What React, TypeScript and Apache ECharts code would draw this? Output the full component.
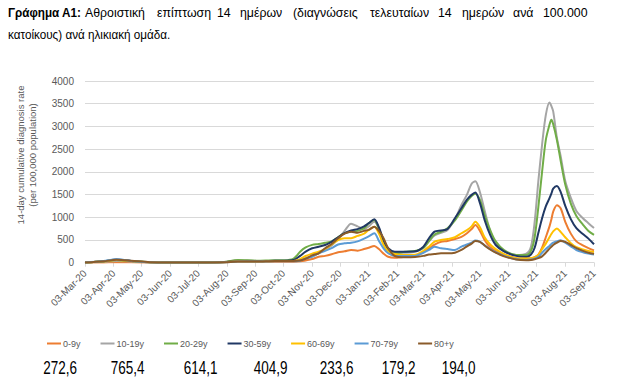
import React, { useEffect, useRef } from 'react';
import * as echarts from 'echarts';

const TITLE_BOLD = 'Γράφημα Α1:';
const TITLE_LINE1_WORDS = ['Αθροιστική', 'επίπτωση', '14', 'ημέρων', '(διαγνώσεις', 'τελευταίων', '14', 'ημερών', 'ανά', '100.000'];
const TITLE_LINE2 = 'κατοίκους) ανά ηλικιακή ομάδα.';
const Y_NAME = '14-day cumulative diagnosis rate\n(per 100,000 population)';

const AXIS_START = '2020-03-03';
const AXIS_END = '2021-09-03';
const Y_TICKS = [0, 500, 1000, 1500, 2000, 2500, 3000, 3500, 4000];

const DATES = [
  '2020-03-03', '2020-03-23', '2020-04-06', '2020-04-22', '2020-05-12', '2020-07-01', '2020-07-31', '2020-08-15',
  '2020-09-04', '2020-09-24', '2020-10-04', '2020-10-14', '2020-10-21', '2020-10-27', '2020-11-03', '2020-11-10',
  '2020-11-17', '2020-11-24', '2020-12-01', '2020-12-08', '2020-12-15', '2020-12-22', '2020-12-29', '2021-01-03',
  '2021-01-09', '2021-01-14', '2021-01-19', '2021-01-24', '2021-01-31', '2021-02-11', '2021-02-22', '2021-03-03',
  '2021-03-09', '2021-03-15', '2021-03-22', '2021-03-29', '2021-04-06', '2021-04-13', '2021-04-19', '2021-04-24',
  '2021-04-28', '2021-05-03', '2021-05-08', '2021-05-14', '2021-05-20', '2021-05-29', '2021-06-11', '2021-06-22',
  '2021-06-27', '2021-07-01', '2021-07-05', '2021-07-09', '2021-07-13', '2021-07-17', '2021-07-19', '2021-07-21',
  '2021-07-25', '2021-07-29', '2021-08-03', '2021-08-09', '2021-08-15', '2021-08-22', '2021-08-28', '2021-09-03',
];

const AGE_0_9 = [
  2, 5, 10, 8, 5, 3, 8, 20, 20, 20, 20, 20, 30, 50, 80, 130,
  150, 185, 230, 250, 280, 265, 300, 330, 370, 300, 200, 130, 110, 130, 140, 230,
  316, 400, 463, 480, 520, 570, 650, 740, 830, 700, 500, 340, 260, 180, 100, 90,
  100, 120, 180, 330, 560, 800, 950, 1125, 1265, 1200, 900, 640, 470, 380, 320, 272.6,
];
const AGE_10_19 = [
  2, 20, 40, 25, 10, 5, 15, 55, 40, 40, 40, 40, 50, 100, 150, 207,
  280, 380, 520, 700, 860, 800, 740, 800, 904, 760, 480, 300, 220, 220, 240, 320,
  470, 600, 660, 720, 960, 1272, 1500, 1740, 1795, 1550, 1150, 700, 430, 250, 170, 200,
  353, 900, 1800, 2600, 3250, 3528, 3450, 3330, 2750, 2350, 1800, 1430, 1140, 980, 870, 765.4,
];
const AGE_20_29 = [
  2, 30, 60, 35, 12, 5, 15, 60, 45, 55, 55, 90, 243, 335, 392, 412,
  440, 470, 560, 650, 684, 700, 760, 870, 942, 740, 463, 280, 207, 240, 260, 330,
  480, 620, 680, 760, 930, 1150, 1350, 1470, 1520, 1380, 1050, 720, 470, 280, 170, 170,
  260, 560, 1230, 2000, 2700, 3040, 3147, 3050, 2700, 2250, 1720, 1300, 1030, 840, 700, 614.1,
];
const AGE_30_59 = [
  2, 30, 70, 40, 12, 5, 12, 40, 35, 45, 45, 60, 150, 243, 317, 353,
  390, 460, 560, 650, 710, 740, 800, 870, 957, 780, 500, 317, 243, 243, 250, 353,
  538, 684, 710, 740, 979, 1199, 1390, 1493, 1543, 1310, 942, 611, 390, 250, 150, 130,
  180, 330, 660, 980, 1240, 1420, 1520, 1630, 1691, 1560, 1250, 960, 760, 630, 530, 404.9,
];
const AGE_60_69 = [
  2, 30, 60, 35, 10, 4, 10, 30, 25, 35, 35, 40, 80, 147, 200, 243,
  300, 400, 500, 538, 540, 590, 640, 721, 794, 640, 390, 243, 190, 170, 175, 260,
  353, 463, 500, 520, 560, 648, 720, 800, 900, 780, 560, 400, 300, 190, 100, 90,
  100, 120, 170, 300, 420, 560, 630, 690, 755, 680, 560, 430, 340, 290, 260, 233.6,
];
const AGE_70_79 = [
  2, 35, 75, 40, 10, 3, 8, 25, 25, 30, 30, 30, 50, 90, 130, 207,
  260, 320, 400, 427, 440, 470, 530, 580, 648, 480, 317, 207, 150, 148, 150, 220,
  280, 353, 316, 300, 280, 353, 400, 440, 490, 460, 380, 300, 230, 150, 75, 60,
  70, 90, 130, 220, 300, 370, 410, 440, 470, 495, 440, 360, 280, 230, 200, 179.2,
];
const AGE_80_PLUS = [
  2, 30, 65, 45, 12, 3, 8, 25, 25, 40, 40, 40, 50, 88, 160, 207,
  317, 412, 538, 640, 684, 660, 700, 721, 794, 700, 538, 317, 150, 119, 125, 150,
  180, 190, 207, 207, 220, 280, 360, 420, 480, 460, 380, 290, 220, 140, 70, 55,
  60, 75, 100, 140, 220, 310, 350, 390, 440, 480, 460, 390, 320, 260, 220, 194.0,
];

const AGE_GROUPS = ['0-9y', '10-19y', '20-29y', '30-59y', '60-69y', '70-79y', '80+y'];
const SERIES_VALUES = [AGE_0_9, AGE_10_19, AGE_20_29, AGE_30_59, AGE_60_69, AGE_70_79, AGE_80_PLUS];
const COLORS = ['#ED7D31', '#A5A5A5', '#70AD47', '#203864', '#FFC000', '#5B9BD5', '#8A5B2A'];

const MONTHS = ['Jan', 'Feb', 'Mar', 'Apr', 'May', 'Jun', 'Jul', 'Aug', 'Sep', 'Oct', 'Nov', 'Dec'];

const pad = (n: number) => (n < 10 ? '0' + n : '' + n);
const iso = (d: Date) => `${d.getUTCFullYear()}-${pad(d.getUTCMonth() + 1)}-${pad(d.getUTCDate())}`;

function dayRange(start: string, end: string): string[] {
  const out: string[] = [];
  const s = new Date(start + 'T00:00:00Z').getTime();
  const e = new Date(end + 'T00:00:00Z').getTime();
  for (let t = s; t <= e; t += 86400000) out.push(iso(new Date(t)));
  return out;
}

const fmtDate = (v: string) => {
  const [y, m, d] = v.split('-');
  return `${d}-${MONTHS[parseInt(m, 10) - 1]}-${y.slice(2)}`;
};

const SANS = "'Liberation Sans', Arial, sans-serif";

// layout (positions only)
const LINE1_X = [85, 157, 217, 240, 293, 370, 438, 462, 513, 543];
const VALUE_X = [60, 127.5, 200.5, 270.5, 336.5, 398.5, 458.5];
const LINE1_SCALE = 0.95;
const LINE2_SCALE = 0.9;
const BOLD_SCALE = 0.9;
const VALUE_SCALE = 0.75;

export default function App() {
  const ref = useRef<HTMLDivElement>(null);

  useEffect(() => {
    if (!ref.current) return;
    const chart = echarts.init(ref.current, null, { renderer: 'svg' });
    const categories = dayRange(AXIS_START, AXIS_END);
    const isTickDay = (_i: number, v: string) => v.endsWith('-03');

    const graphic: any[] = [
      {
        type: 'text', x: 8, y: 13, scaleX: BOLD_SCALE,
        style: { text: TITLE_BOLD, font: `bold 13px ${SANS}`, fill: '#000', verticalAlign: 'middle' },
      },
      ...TITLE_LINE1_WORDS.map((w, i) => ({
        type: 'text', x: LINE1_X[i], y: 13, scaleX: LINE1_SCALE,
        style: { text: w, font: `13px ${SANS}`, fill: '#000', verticalAlign: 'middle' },
      })),
      {
        type: 'text', x: 8, y: 35, scaleX: LINE2_SCALE,
        style: { text: TITLE_LINE2, font: `13px ${SANS}`, fill: '#000', verticalAlign: 'middle' },
      },
      {
        type: 'text', x: 26, y: 155, rotation: Math.PI / 2,
        style: {
          text: Y_NAME, font: `9.5px ${SANS}`, fill: '#595959',
          align: 'center', verticalAlign: 'middle', lineHeight: 12,
        },
      },
      ...SERIES_VALUES.map((s, i) => ({
        type: 'text', x: VALUE_X[i], y: 368, scaleX: VALUE_SCALE,
        style: {
          text: s[s.length - 1].toFixed(1).replace('.', ','),
          font: `18px ${SANS}`, fill: '#000', align: 'center', verticalAlign: 'middle',
        },
      })),
    ];

    chart.setOption({
      animation: false,
      backgroundColor: '#fff',
      grid: { left: 85, top: 81, width: 509, height: 181.7, containLabel: false },
      legend: {
        left: 42, top: 334, itemGap: 20, itemWidth: 14, itemHeight: 2,
        icon: 'rect',
        textStyle: { fontSize: 9, color: '#595959', fontFamily: SANS, padding: [0, 0, 0, -3] },
        data: AGE_GROUPS,
      },
      xAxis: {
        type: 'category',
        data: categories,
        boundaryGap: false,
        axisLine: { lineStyle: { color: '#D9D9D9' } },
        axisTick: { show: true, interval: isTickDay, length: 4, lineStyle: { color: '#D9D9D9' } },
        axisLabel: {
          interval: isTickDay, rotate: 45, fontSize: 10, color: '#595959', fontFamily: SANS,
          margin: 9, formatter: fmtDate,
        },
        splitLine: { show: false },
      },
      yAxis: {
        type: 'value', min: 0, max: 4000, interval: 500,
        axisLine: { show: false }, axisTick: { show: false },
        axisLabel: { fontSize: 10, color: '#595959', fontFamily: SANS, margin: 11,
          formatter: (v: number) => (Y_TICKS.includes(v) ? String(v) : '') },
        splitLine: { lineStyle: { color: '#D9D9D9' } },
      },
      series: AGE_GROUPS.map((name, i) => ({
        name, type: 'line', showSymbol: false, smooth: 0.3,
        color: COLORS[i],
        lineStyle: { width: 2, color: COLORS[i] },
        data: DATES.map((d, j) => [d, SERIES_VALUES[i][j]]),
      })),
      graphic,
    });
    return () => chart.dispose();
  }, []);

  return <div ref={ref} style={{ width: 630, height: 385, position: 'absolute', left: 0, top: 0 }} />;
}
